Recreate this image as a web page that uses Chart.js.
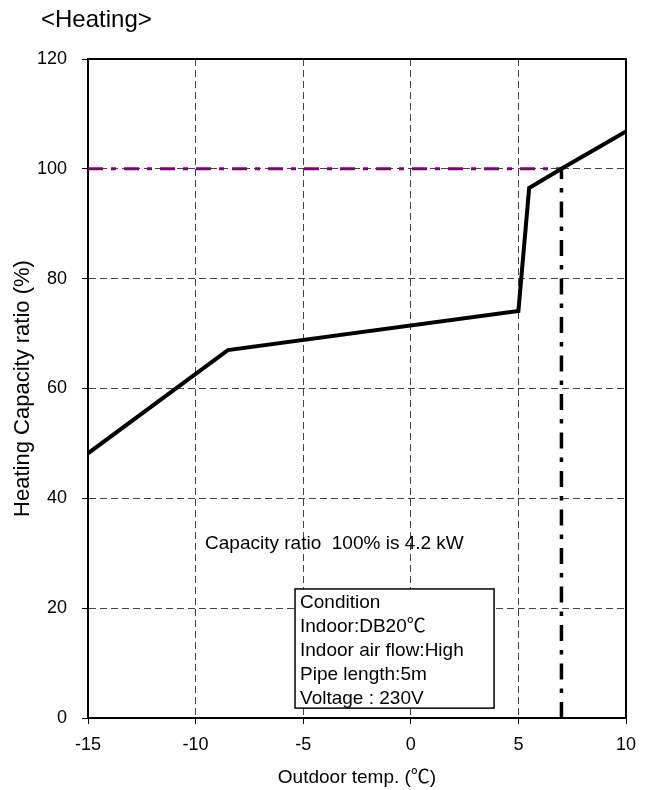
<!DOCTYPE html>
<html>
<head>
<meta charset="utf-8">
<script src="https://cdn.jsdelivr.net/npm/chart.js@4.4.1/dist/chart.umd.min.js"></script>
<style>
  body { margin: 0; background: #fff; }
  #wrap { width: 656px; height: 790px; }
</style>
</head>
<body>
<div id="wrap"><canvas id="heatingChart" width="656" height="790"></canvas></div>
<script>
// data
const outdoorTemp = [-15, -8.5, 5, 5.5, 7, 10];
const capacityRatio = [48.2, 67, 74.1, 96.5, 100, 106.8];
const ratedRatioX = [-15, 7];
const ratedRatioY = [100, 100];
const ratedTempX = [7, 7];
const ratedTempY = [0, 100];
const xTicks = [-15, -10, -5, 0, 5, 10];
const yTicks = [0, 20, 40, 60, 80, 100, 120];

const chartTitle = '<Heating>';
const noteText = 'Capacity ratio  100% is 4.2 kW';
const conditionLines = ['Condition', 'Indoor:DB20\u2103', 'Indoor air flow:High', 'Pipe length:5m', 'Voltage : 230V'];

const FONT = '"Liberation Sans", Arial, "Noto Sans CJK JP", sans-serif';

const toPoints = (xs, ys) => xs.map((x, i) => ({ x: x, y: ys[i] }));

// frame, title and notes
const extrasPlugin = {
    id: 'extras',
    beforeDatasetsDraw(chart) {
        const { ctx, chartArea, scales } = chart;
        const x = scales.x, y = scales.y;
        ctx.save();
        // top + right frame
        ctx.strokeStyle = '#000';
        ctx.lineWidth = 2;
        ctx.beginPath();
        ctx.moveTo(chartArea.left, chartArea.top);
        ctx.lineTo(chartArea.right, chartArea.top);
        ctx.lineTo(chartArea.right, chartArea.bottom);
        ctx.stroke();

        // capacity note
        ctx.fillStyle = '#000';
        ctx.font = '19px ' + FONT;
        ctx.textAlign = 'left';
        ctx.textBaseline = 'alphabetic';
        ctx.fillText(noteText, x.getPixelForValue(-9.56), y.getPixelForValue(30.8));

        // condition box
        const bx = x.getPixelForValue(-5.38), by = y.getPixelForValue(23.5);
        const bw = x.getPixelForValue(3.87) - bx, bh = y.getPixelForValue(1.8) - by;
        ctx.fillStyle = '#fff';
        ctx.fillRect(bx, by, bw, bh);
        ctx.lineWidth = 1.5;
        ctx.strokeRect(bx, by, bw, bh);
        ctx.fillStyle = '#000';
        conditionLines.forEach((t, i) => {
            ctx.fillText(t, bx + 5, by + 19 + i * 24);
        });
        ctx.restore();
    },
    afterDraw(chart) {
        const { ctx } = chart;
        ctx.save();
        ctx.fillStyle = '#000';
        ctx.font = '24px ' + FONT;
        ctx.textBaseline = 'alphabetic';
        ctx.fillText(chartTitle, 41, 27);
        ctx.restore();
    }
};

new Chart(document.getElementById('heatingChart'), {
    type: 'scatter',
    data: {
        datasets: [
            {
                label: 'Capacity ratio',
                data: toPoints(outdoorTemp, capacityRatio),
                showLine: true,
                borderColor: '#000',
                borderWidth: 4,
                pointRadius: 0,
                order: 0
            },
            {
                label: '100%',
                data: toPoints(ratedRatioX, ratedRatioY),
                showLine: true,
                borderColor: '#800080',
                borderWidth: 3,
                borderDash: [15, 8, 5, 8],
                pointRadius: 0,
                order: 2
            },
            {
                label: '7C',
                data: toPoints(ratedTempX, ratedTempY),
                showLine: true,
                borderColor: '#000',
                borderWidth: 3.5,
                borderDash: [16, 9, 4.5, 9],
                pointRadius: 0,
                order: 1
            }
        ]
    },
    options: {
        responsive: false,
        animation: false,
        layout: { padding: { top: 59, right: 30, left: 0, bottom: 0 } },
        plugins: {
            legend: { display: false },
            tooltip: { enabled: false }
        },
        scales: {
            x: {
                type: 'linear',
                min: -15,
                max: 10,
                afterBuildTicks: s => { s.ticks = xTicks.map(v => ({ value: v })); },
                afterFit: s => { s.height = 72; },
                ticks: { color: '#000', font: { family: FONT, size: 18 }, padding: 10 },
                grid: { color: '#444', lineWidth: 1, tickLength: 6, tickColor: '#000', tickBorderDash: [] },
                border: { color: '#000', width: 2, dash: [7, 4] },
                title: {
                    display: true,
                    text: 'Outdoor temp. (\u2103)',
                    color: '#000',
                    font: { family: FONT, size: 19 },
                    padding: { top: 0, bottom: 1 }
                }
            },
            y: {
                type: 'linear',
                min: 0,
                max: 120,
                afterBuildTicks: s => { s.ticks = yTicks.map(v => ({ value: v })); },
                afterFit: s => { s.width = 88; },
                ticks: { color: '#000', font: { family: FONT, size: 18 }, padding: 15 },
                grid: { color: '#444', lineWidth: 1, tickLength: 6, tickColor: '#000', tickBorderDash: [] },
                border: { color: '#000', width: 2, dash: [7, 4] },
                title: {
                    display: true,
                    text: 'Heating Capacity ratio (%)',
                    color: '#000',
                    font: { family: FONT, size: 22 },
                    padding: { top: 10, bottom: 0 }
                }
            }
        }
    },
    plugins: [extrasPlugin]
});
</script>
</body>
</html>
